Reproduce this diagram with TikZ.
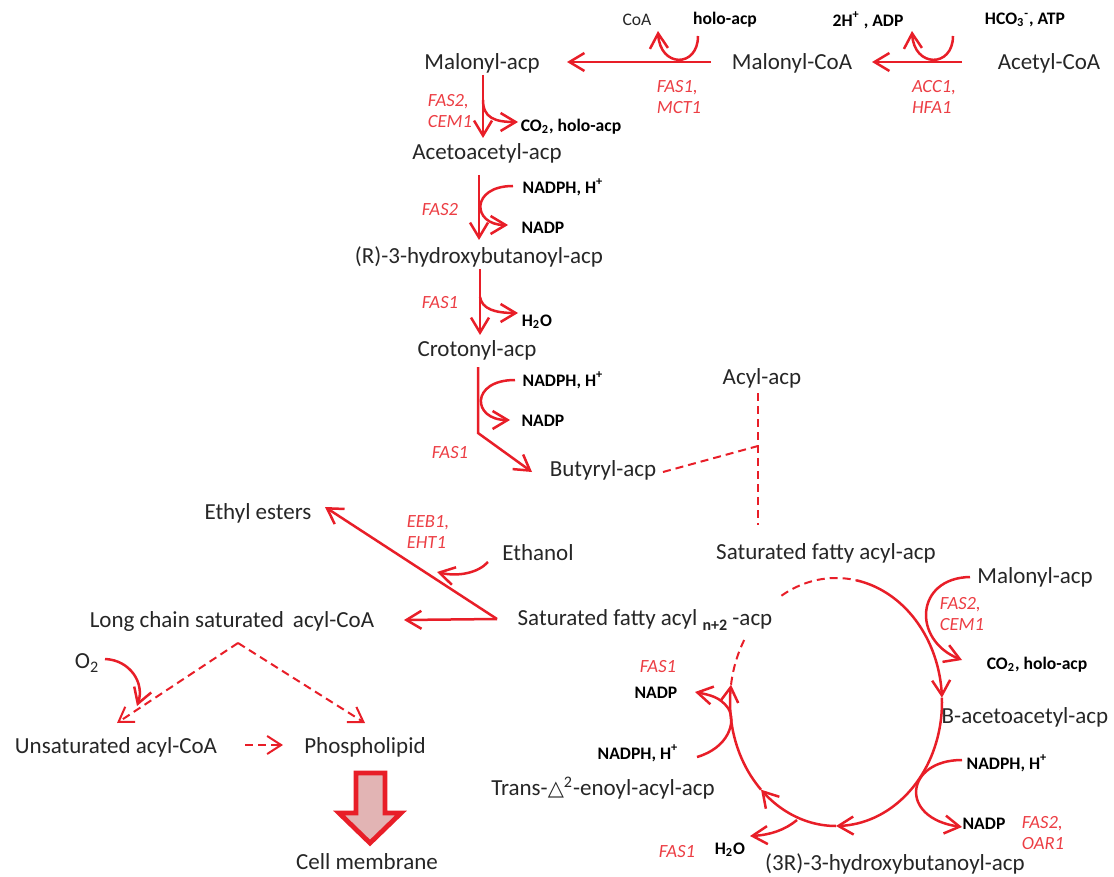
\documentclass[tikz,border=0pt]{standalone}
\usepackage{fontspec}
\setmainfont{Carlito}
\newfontfamily\symf{DejaVu Sans}
\usetikzlibrary{arrows.meta}
\definecolor{rd}{RGB}{232,30,40}
\definecolor{rdt}{RGB}{236,62,68}
\definecolor{tx}{RGB}{38,38,38}
\definecolor{pinkf}{RGB}{226,180,180}
\begin{document}
\begin{tikzpicture}[x=0.5pt,y=-0.5pt,
  lbl/.style={text=tx, font=\fontsize{11.5}{13}\selectfont, inner sep=0pt},
  sm/.style={text=black, font=\fontsize{8.8}{10}\selectfont\bfseries, inner sep=0pt},
  smr/.style={text=tx, font=\fontsize{8.8}{10}\selectfont, inner sep=0pt},
  enz/.style={text=rdt, font=\fontsize{9.3}{10.6}\selectfont\itshape, inner sep=0pt, align=left},
  arr/.style={draw=rd, line width=1.25pt, -{Straight Barb[length=7.5pt,width=9pt]}},
  ln/.style={draw=rd, line width=1.25pt},
  dsh/.style={draw=rd, line width=1pt, dash pattern=on 4pt off 2.5pt},
  darr/.style={dsh, -{Straight Barb[length=7pt,width=9pt]}},
]
\useasboundingbox (0,0) rectangle (1114,877);

% ---------- top row ----------
\node[lbl] (mal1) at (482,63) {Malonyl-acp};
\node[lbl] (malcoa) at (792,63) {Malonyl-CoA};
\node[lbl] (acetyl) at (1049,63) {Acetyl-CoA};
\node[smr] (coa) at (637,20) {CoA};
\node[sm] (holo) at (725,20) {holo-acp};
\node[sm] (adp) at (868,20) {2H\textsuperscript{+} , ADP};
\node[sm] (hco) at (1025,20) {HCO\textsubscript{3}\textsuperscript{-}, ATP};
\node[enz] (e1) at (679,97) {FAS1,\\MCT1};
\node[enz] (e2) at (934,97) {ACC1,\\HFA1};

\coordinate (a1s) at (962,62); \coordinate (a1e) at (872,62);
\coordinate (a2s) at (711,62); \coordinate (a2e) at (567,62);
\draw[arr] (a1s) -- (a1e);
\draw[arr] (a2s) -- (a2e);
\draw[arr] (953,36) .. controls (953,68) and (914,68) .. (912,31);
\draw[arr] (698,36) .. controls (698,68) and (660,68) .. (658,31);

% ---------- left chain ----------
\node[lbl] (aceto) at (487,153) {Acetoacetyl-acp};
\node[lbl] (hydr) at (479,257) {(R)-3-hydroxybutanoyl-acp};
\node[lbl] (croton) at (477,350) {Crotonyl-acp};
\node[lbl] (butyr) at (603,470) {Butyryl-acp};
\node[enz] (e3) at (450,111) {FAS2,\\CEM1};
\node[enz] (e4) at (440,210) {FAS2};
\node[enz] (e5) at (440,303) {FAS1};
\node[enz] (e6) at (450,453) {FAS1};
\node[sm] (co2a) at (571,127) {CO\textsubscript{2}, holo-acp};
\node[sm] (nadph1) at (563,187) {NADPH, H\textsuperscript{+}};
\node[sm] (nadp1) at (543,228) {NADP};
\node[sm] (h2o1) at (537,322) {H\textsubscript{2}O};
\node[sm] (nadph2) at (563,380) {NADPH, H\textsuperscript{+}};
\node[sm] (nadp2) at (543,421) {NADP};

\draw[arr] (483,75) -- (483,138);
\draw[arr] (483,100) .. controls (483,118) and (495,122) .. (518,122);
\draw[arr] (479,175) -- (479,240);
\draw[arr] (513,186) .. controls (470,186) and (472,225) .. (508,225);
\draw[arr] (480,269) -- (480,335);
\draw[arr] (480,297) .. controls (482,309) and (495,313) .. (518,313);
\draw[arr] (478,367) -- (478,433) -- (532,472);
\draw[arr] (515,380) .. controls (470,380) and (472,420) .. (510,420);

% ---------- acyl-acp ----------
\node[lbl] (acyl) at (762,378) {Acyl-acp};
\node[lbl] (satacp) at (826,553) {Saturated fatty acyl-acp};
\coordinate (jn) at (758,446);
\draw[dsh] (663,472) -- (jn);
\draw[dsh] (758,393) -- (758,525);

% ---------- left bottom ----------
\node[lbl] (ethyl) at (258,513) {Ethyl esters};
\node[lbl] (ethanol) at (538,553) {Ethanol};
\node[enz] (e7) at (428,532) {EEB1,\\EHT1};
\node[lbl] (long) at (232,621) {Long chain saturated\, acyl-CoA};
\node[lbl] (satn) at (645,620) {Saturated fatty acyl {\fontsize{8}{9}\selectfont\bfseries\raisebox{-2.5pt}{n+2}} -acp};
\node[lbl] (o2) at (87,663) {O\textsubscript{2}};
\node[lbl] (unsat) at (116,747) {Unsaturated acyl-CoA};
\node[lbl] (phos) at (365,747) {Phospholipid};
\node[lbl] (cell) at (367,862) {Cell membrane};

\coordinate (apx) at (497,619);
\draw[arr] (apx) -- (325,507);
\draw[arr] (apx) -- (404,620);
\draw[arr] (488,562) .. controls (478,573) and (458,577) .. (437,572);
\coordinate (lc) at (238,643);
\draw[darr] (lc) -- (117,723);
\draw[darr] (lc) -- (365,723);
\draw[arr] (105,659) .. controls (130,660) and (145,683) .. (137,706);
\draw[darr] (245,745) -- (283,745);

\draw[draw=rd, fill=pinkf, line width=2.4pt, line join=miter]
  (356,773) -- (385,773) -- (385,813) -- (401,813) -- (370,843) -- (339,813) -- (356,813) -- cycle;

% ---------- cycle ----------
\node[lbl] (mal2) at (1035,577) {Malonyl-acp};
\node[enz] (e8) at (962,614) {FAS2,\\CEM1};
\node[sm] (co2b) at (1037,665) {CO\textsubscript{2}, holo-acp};
\node[lbl] (bacet) at (1025,717) {B-acetoacetyl-acp};
\node[sm] (nadph3) at (1007,763) {NADPH, H\textsuperscript{+}};
\node[sm] (nadp3) at (984,824) {NADP};
\node[enz] (e9) at (1043,833) {FAS2,\\OAR1};
\node[lbl] (hyd3) at (895,864) {(3R)-3-hydroxybutanoyl-acp};
\node[sm] (h2o2) at (730,850) {H\textsubscript{2}O};
\node[enz] (e10) at (677,852) {FAS1};
\node[lbl] (trans) at (603,788) {Trans-{\symf\fontsize{10.5}{12}\selectfont △}\textsuperscript{2}-enoyl-acyl-acp};
\node[sm] (nadph4) at (638,753) {NADPH, H\textsuperscript{+}};
\node[sm] (nadp4) at (656,693) {NADP};
\node[enz] (e11) at (658,667) {FAS1};

\draw[dsh] plot[domain=121:79, samples=25] ({836+106*cos(\x)},{702-124*sin(\x)});
\draw[arr] plot[domain=79:2, samples=40] ({836+106*cos(\x)},{702-124*sin(\x)});
\draw[arr] plot[domain=2:-90, samples=40] ({836+106*cos(\x)},{702-124*sin(\x)});
\draw[arr] plot[domain=-90:-135, samples=25] ({836+106*cos(\x)},{702-124*sin(\x)});
\draw[arr] plot[domain=-135:-188, samples=25] ({836+106*cos(\x)},{702-124*sin(\x)});
\draw[dsh] plot[domain=-188:-210, samples=15] ({836+106*cos(\x)},{702-124*sin(\x)});

\draw[arr] (970,577) .. controls (915,578) and (912,640) .. (962,660);
\draw[arr] (962,760) .. controls (905,760) and (898,818) .. (962,827);
\draw[arr] (797,820) .. controls (785,830) and (770,835) .. (750,836);
\draw[arr] (697,757) .. controls (728,748) and (737,722) .. (728,708) .. controls (720,697) and (710,695) .. (695,692);
\end{tikzpicture}
\end{document}
